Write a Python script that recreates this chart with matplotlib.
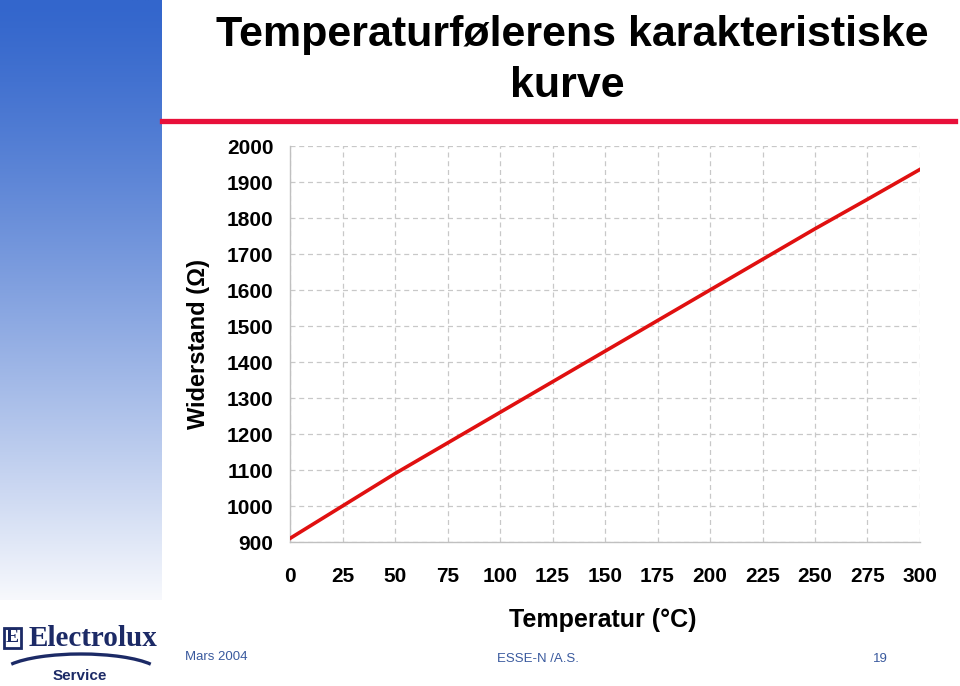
import numpy as np
import matplotlib
matplotlib.use("Agg")
import matplotlib.pyplot as plt
from matplotlib.patches import Arc

plt.rcParams['font.family'] = ['Liberation Sans', 'DejaVu Sans']

# data
temperatur = [0, 25, 50, 75, 100, 125, 150, 175, 200, 225, 250, 275, 300]
widerstand = [910, 1000, 1090, 1175, 1260, 1345, 1430, 1515, 1600, 1685, 1770, 1852, 1935]
x_ticks = [0, 25, 50, 75, 100, 125, 150, 175, 200, 225, 250, 275, 300]
y_ticks = [900, 1000, 1100, 1200, 1300, 1400, 1500, 1600, 1700, 1800, 1900, 2000]

W, H = 960, 686
fig = plt.figure(figsize=(9.6, 6.86), dpi=100)
fig.patch.set_facecolor("white")

# blue gradient strip on the left
bar = fig.add_axes([0, 1 - 600 / H, 162 / W, 600 / H])
t = np.linspace(0, 1, 256)[:, None]
top = np.array([0.20, 0.40, 0.80])
bot = np.array([0.97, 0.975, 0.99])
grad = top + (bot - top) * (t ** 1.25)[:, :, None]
bar.imshow(grad, aspect="auto", extent=[0, 1, 0, 1])
bar.axis("off")

# title
fig.text(572 / W, 1 - 35 / H, "Temperaturfølerens karakteristiske",
         ha="center", va="center", fontsize=31, fontweight="bold")
fig.text(567 / W, 1 - 86 / H, "kurve",
         ha="center", va="center", fontsize=31, fontweight="bold")

# red rule under the title
fig.add_artist(plt.Line2D([162 / W, 955 / W], [1 - 121 / H, 1 - 121 / H],
                          color="#e8103a", linewidth=3.8, transform=fig.transFigure))

# chart
ax = fig.add_axes([290 / W, 1 - 542 / H, 630 / W, 396 / H])
ax.plot(temperatur, widerstand, color="#e01010", linewidth=2.6, zorder=3)
ax.set_xlim(0, 300)
ax.set_ylim(900, 2000)
ax.set_xticks(x_ticks)
ax.set_yticks(y_ticks)
ax.grid(True, linestyle=(0, (4, 3)), color="#c8c8c8", linewidth=0.9)
for s in ["top", "right"]:
    ax.spines[s].set_visible(False)
for s in ["left", "bottom"]:
    ax.spines[s].set_color("#c0c0c0")
    ax.spines[s].set_linewidth(1.0)
ax.tick_params(length=0, labelsize=15)
ax.tick_params(axis="y", pad=12)
ax.tick_params(axis="x", pad=18)
for lab in ax.get_xticklabels() + ax.get_yticklabels():
    lab.set_fontweight("bold")

fig.text(198 / W, 1 - 344 / H, "Widerstand (\u03a9)", rotation=90,
         ha="center", va="center", fontsize=17, fontweight="bold")
fig.text(603 / W, 1 - 620 / H, "Temperatur (\u00b0C)",
         ha="center", va="center", fontsize=18, fontweight="bold")

# footer
foot = "#3a5a9e"
fig.text(185 / W, 1 - 657 / H, "Mars 2004", ha="left", va="center", fontsize=9.5, color=foot)
fig.text(497 / W, 1 - 659 / H, "ESSE-N /A.S.", ha="left", va="center", fontsize=9.5, color=foot)
fig.text(880 / W, 1 - 659 / H, "19", ha="center", va="center", fontsize=9.5, color=foot)

# Electrolux logo
navy = "#1c2a66"
fig.text(6 / W, 1 - 638 / H, "E", ha="left", va="center", fontsize=14, fontweight="bold",
         color=navy, family=["Liberation Serif", "DejaVu Serif"],
         bbox=dict(boxstyle="square,pad=0.08", fc="white", ec=navy, lw=2))
fig.text(29 / W, 1 - 638 / H, "Electrolux", ha="left", va="center", fontsize=21,
         fontweight="bold", color=navy, family=["Liberation Serif", "DejaVu Serif"])
logo = fig.add_axes([0, 0, 162 / W, 1 - 645 / H])
logo.set_xlim(0, 162)
logo.set_ylim(686, 645)
logo.add_patch(Arc((81, 674), 160, 40, theta1=188, theta2=352, color=navy, lw=2.4))
logo.axis("off")
fig.text(80 / W, 1 - 676 / H, "Service", ha="center", va="center", fontsize=11,
         fontweight="bold", color=navy)

fig.savefig("out.png", dpi=100)
